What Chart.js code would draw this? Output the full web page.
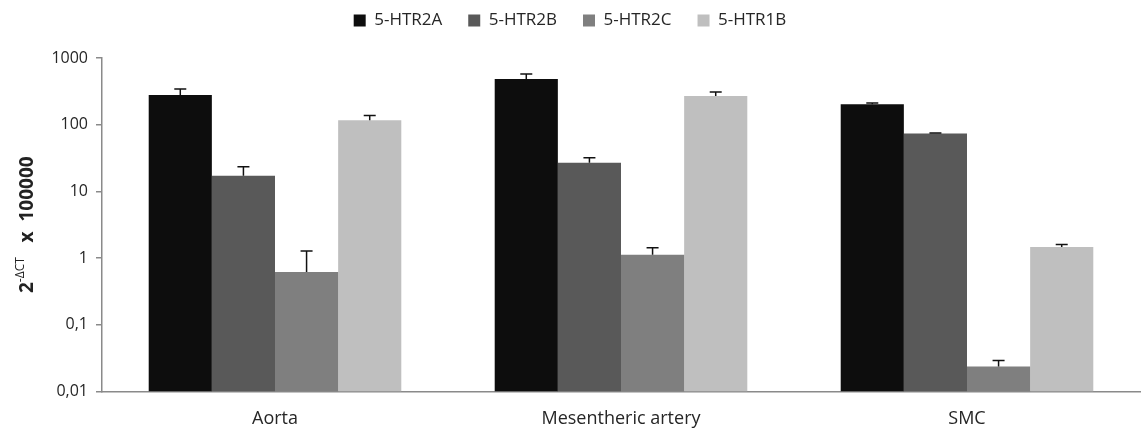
<!DOCTYPE html>
<html>
<head>
<meta charset="utf-8">
<script src="https://cdn.jsdelivr.net/npm/chart.js@4"></script>
<style>
  html, body { margin: 0; padding: 0; background: #fff; }
  #wrap { width: 1144px; height: 435px; }
</style>
</head>
<body>
<div id="wrap"><canvas id="chart"></canvas></div>
<script>
const categories = ['Aorta', 'Mesentheric artery', 'SMC'];
const seriesNames = ['5-HTR2A', '5-HTR2B', '5-HTR2C', '5-HTR1B'];
const htr2a = [279, 485, 203];
const htr2b = [17.1, 26.8, 73.6];
const htr2c = [0.62, 1.12, 0.0237];
const htr1b = [117, 270, 1.47];
// upper end of the error bars
const htr2aErr = [344, 575, 212];
const htr2bErr = [23.3, 31.8, 75];
const htr2cErr = [1.28, 1.43, 0.0291];
const htr1bErr = [137, 309, 1.59];
const yTicks = [0.01, 0.1, 1, 10, 100, 1000];
const yTickLabels = ['0,01', '0,1', '1', '10', '100', '1000'];

const colors = ['#0d0d0d', '#595959', '#7f7f7f', '#bfbfbf'];
const values = [htr2a, htr2b, htr2c, htr1b];
const errors = [htr2aErr, htr2bErr, htr2cErr, htr1bErr];

// extra room under the legend
const legendGap = {
    id: 'legendGap',
    beforeInit(chart) {
        const fit = chart.legend.fit;
        chart.legend.fit = function () {
            fit.call(this);
            this.height += 19;
        };
    }
};

const errorBars = {
    id: 'errorBars',
    afterDatasetsDraw(chart) {
        const ctx = chart.ctx;
        const y = chart.scales.y;
        ctx.save();
        ctx.strokeStyle = '#111';
        ctx.lineWidth = 1.5;
        chart.data.datasets.forEach((ds, di) => {
            const meta = chart.getDatasetMeta(di);
            meta.data.forEach((bar, i) => {
                const top = y.getPixelForValue(errors[di][i]);
                ctx.beginPath();
                ctx.moveTo(bar.x, bar.y);
                ctx.lineTo(bar.x, top);
                ctx.moveTo(bar.x - 6, top);
                ctx.lineTo(bar.x + 6, top);
                ctx.stroke();
            });
        });
        ctx.restore();
    }
};

const yTitle = {
    id: 'yTitle',
    afterDraw(chart) {
        const ctx = chart.ctx;
        const area = chart.chartArea;
        ctx.save();
        ctx.translate(26, (area.top + area.bottom) / 2);
        ctx.rotate(-Math.PI / 2);
        ctx.fillStyle = '#222';
        ctx.textBaseline = 'alphabetic';
        const big = 'bold 19px "Open Sans"';
        const small = '12px "Open Sans"';
        ctx.font = big;
        const w1 = ctx.measureText('2').width;
        const w3 = ctx.measureText('   x  100000').width;
        ctx.font = small;
        const w2 = ctx.measureText('-ΔCT').width;
        let x = -(w1 + w2 + w3) / 2;
        ctx.font = big;
        ctx.fillText('2', x, 7);
        x += w1;
        ctx.font = small;
        ctx.fillText('-ΔCT', x, -2);
        x += w2;
        ctx.font = big;
        ctx.fillText('   x  100000', x, 7);
        ctx.restore();
    }
};

new Chart(document.getElementById('chart'), {
    type: 'bar',
    data: {
        labels: categories,
        datasets: seriesNames.map((name, i) => ({
            label: name,
            data: values[i],
            backgroundColor: colors[i],
            borderWidth: 0,
            categoryPercentage: 0.73,
            barPercentage: 1.0
        }))
    },
    options: {
        responsive: true,
        maintainAspectRatio: false,
        animation: false,
        layout: { padding: { left: 0, right: 4, top: -14, bottom: -12 } },
        plugins: {
            legend: {
                position: 'top',
                labels: {
                    boxWidth: 12,
                    boxHeight: 12,
                    padding: 26,
                    color: '#262626',
                    font: { family: 'Open Sans', size: 17 }
                }
            },
            tooltip: { enabled: false }
        },
        scales: {
            x: {
                grid: { display: false, drawTicks: false },
                border: { display: true, color: '#8a8a8a', width: 1.5 },
                ticks: {
                    color: '#262626',
                    padding: 17,
                    font: { family: 'Open Sans', size: 18 }
                }
            },
            y: {
                type: 'logarithmic',
                min: 0.01,
                max: 1000,
                afterBuildTicks(scale) {
                    scale.ticks = yTicks.map(v => ({ value: v }));
                },
                afterFit(scale) {
                    scale.width = 102;
                },
                grid: {
                    display: true,
                    drawOnChartArea: false,
                    drawTicks: true,
                    tickLength: 6,
                    color: '#8a8a8a',
                    lineWidth: 1.5
                },
                border: { display: true, color: '#8a8a8a', width: 1.5 },
                ticks: {
                    color: '#262626',
                    padding: 8,
                    font: { family: 'Open Sans', size: 16 },
                    callback: (v) => {
                        const idx = yTicks.indexOf(v);
                        return idx >= 0 ? yTickLabels[idx] : '';
                    }
                }
            }
        }
    },
    plugins: [legendGap, errorBars, yTitle]
});
</script>
</body>
</html>
